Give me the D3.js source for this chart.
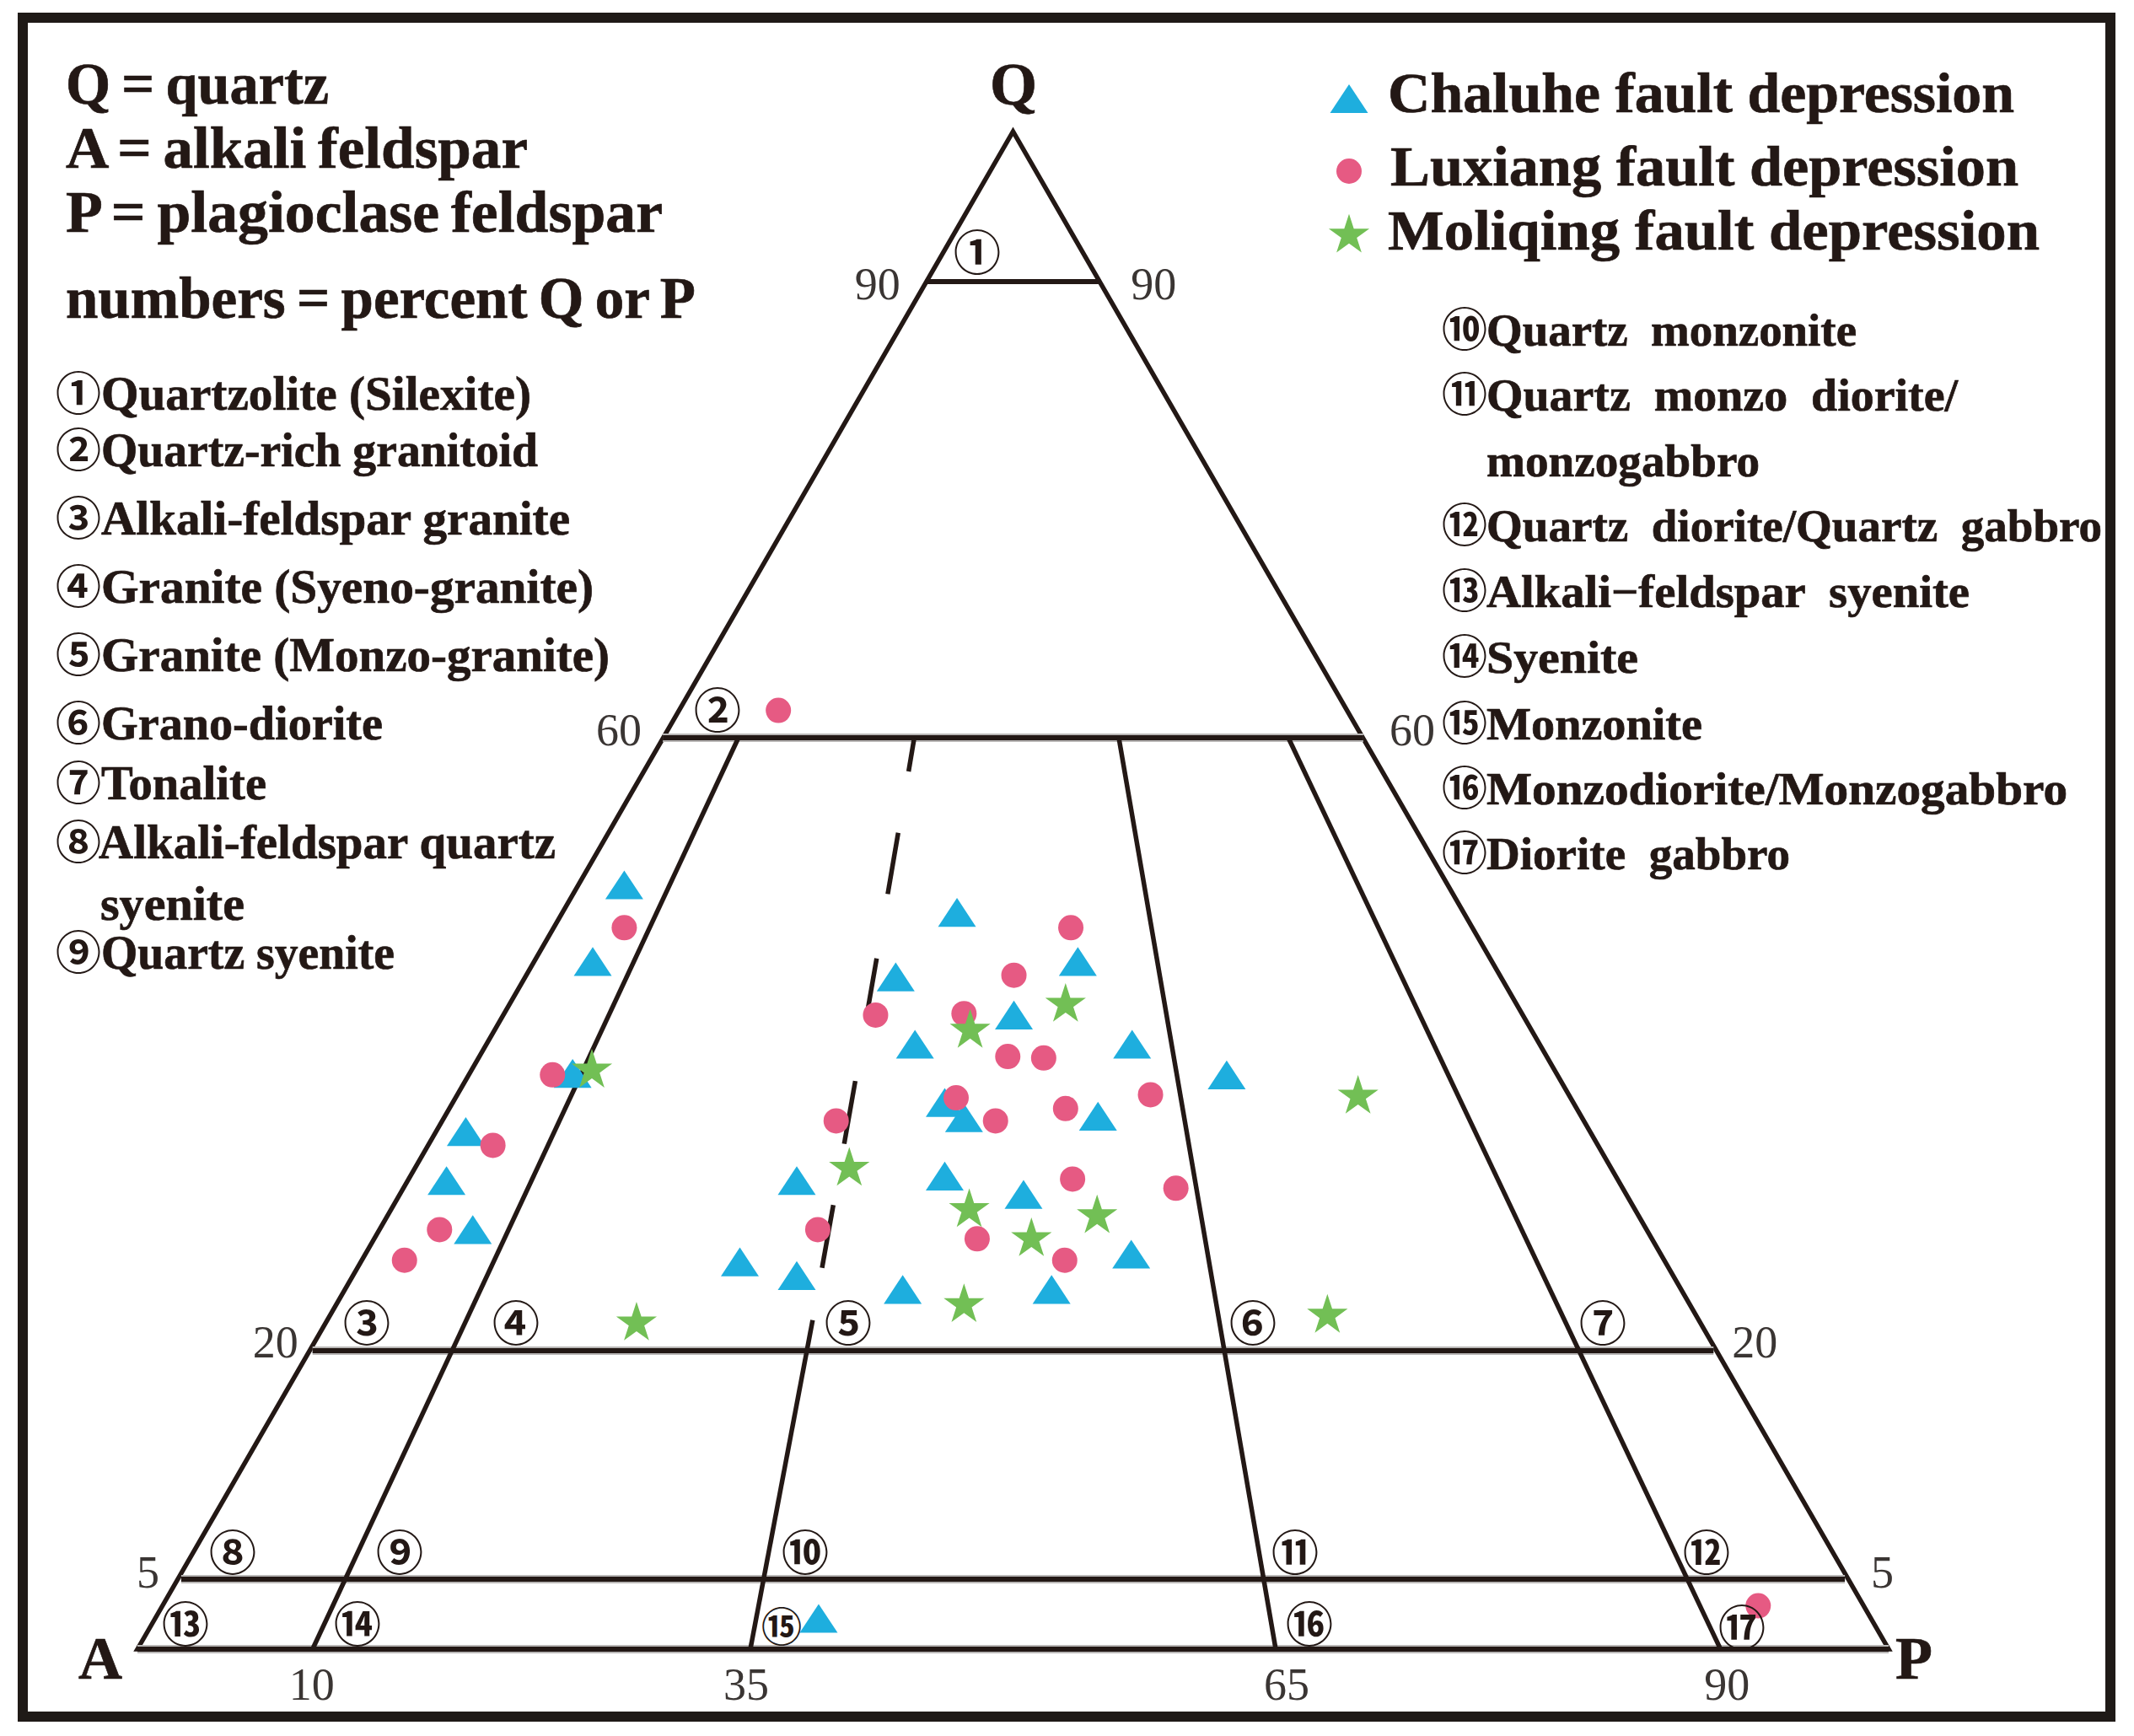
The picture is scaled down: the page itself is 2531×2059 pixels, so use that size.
<!DOCTYPE html>
<html>
<head>
<meta charset="utf-8">
<script src="https://d3js.org/d3.v7.min.js"></script>
<style>
  body { margin: 0; background: #fff; }
  text { font-family: "Liberation Serif", serif; fill: #231815; }
  .bold { font-weight: bold; stroke: #231815; stroke-width: 0.7px; }
  .tick { font-size: 54px; fill: #3a3533; }
  .circled { font-family: "Noto Sans CJK SC", sans-serif; font-weight: 700; text-anchor: middle; }
</style>
</head>
<body>
<div class="chart"></div>
<script>
// QAP diagram, all points
// q = percent quartz, p = percent plagioclase (a is what is left)

var chaluheQ = [50.4, 45.4, 38.1, 34.3, 31.1, 27.9, 25.8, 31.1, 24.9, 48.6, 44.4, 45.4, 41.9, 40.0, 40.0, 38.0, 36.2, 35.2, 35.3, 31.4, 30.2, 26.3, 24.0, 24.0, 2.2];
var chaluheP = [2.6, 3.3, 5.8, 1.6, 2.1, 5.2, 21.5, 22.1, 25.2, 22.5, 21.1, 31.0, 29.1, 24.4, 36.8, 43.2, 28.0, 29.6, 37.2, 30.4, 35.5, 43.6, 31.7, 40.2, 37.8];

var luxiangQ = [61.8, 47.6, 38.0, 33.4, 27.9, 25.9, 27.9, 35.0, 41.9, 42.0, 44.5, 47.6, 39.2, 39.1, 36.5, 35.0, 35.8, 36.7, 31.2, 30.6, 27.3, 25.9, 3.1];
var luxiangP = [5.7, 4.0, 4.7, 3.6, 3.3, 2.3, 24.9, 22.4, 21.2, 26.2, 27.8, 29.5, 30.1, 32.2, 28.5, 31.5, 35.1, 39.5, 37.8, 44.0, 34.3, 40.0, 91.0];

var moliqingQ = [38.3, 31.9, 21.8, 40.9, 42.6, 29.2, 28.8, 27.3, 23.0, 36.6, 22.3];
var moliqingP = [6.8, 24.7, 17.6, 27.1, 31.7, 32.9, 40.4, 37.4, 35.7, 51.4, 56.8];

// field boundaries, P/(A+P) as drawn at the base and at the 60 line
var qLevels = [90, 60, 20, 5];
var ratioBase = [10, 35, 65, 90.4];
var ratioTop = [10.8, 35.9, 65.1, 89.3];
var sideTicks = [90, 60, 20, 5];
var bottomTicks = [10, 35, 65, 90];
// the 35 line is solid up to 22 and dashed from there to 60
var dashFrom = [0, 25.4, 33.5, 41.7, 49.8, 57.8];
var dashTo = [22, 29.5, 37.6, 45.6, 53.8, 60];

var legendNames = ["Chaluhe fault depression", "Luxiang fault depression", "Moliqing fault depression"];
var keyLines = ["Q = quartz", "A = alkali feldspar", "P = plagioclase feldspar", "numbers = percent Q or P"];
var leftMarks = ["①", "②", "③", "④", "⑤", "⑥", "⑦", "⑧", "", "⑨"];
var leftNames = ["Quartzolite (Silexite)", "Quartz-rich granitoid", "Alkali-feldspar granite", "Granite (Syeno-granite)", "Granite (Monzo-granite)", "Grano-diorite", "Tonalite", "Alkali-feldspar quartz", "syenite", "Quartz syenite"];
var rightMarks = ["⑩", "⑪", "", "⑫", "⑬", "⑭", "⑮", "⑯", "⑰"];
var rightNames = ["Quartz  monzonite", "Quartz  monzo  diorite/", "monzogabbro", "Quartz  diorite/Quartz  gabbro", "Alkali−feldspar  syenite", "Syenite", "Monzonite", "Monzodiorite/Monzogabbro", "Diorite  gabbro"];
var fieldMarks = ["①", "②", "③", "④", "⑤", "⑥", "⑦", "⑧", "⑨", "⑩", "⑪", "⑫", "⑬", "⑭", "⑮", "⑯", "⑰"];

// layout only below this line
var svgWidth = 2531;
var svgHeight = 2059;
var ink = "#231815";
var triangleColor = "#1eaede";
var circleColor = "#e65a83";
var starColor = "#72bf55";

var svg = d3.select(".chart").append("svg")
  .attr("width", svgWidth)
  .attr("height", svgHeight)
  .style("display", "block");

svg.append("rect")
  .attr("x", 27).attr("y", 21)
  .attr("width", 2476).attr("height", 2015)
  .attr("fill", "#fff")
  .attr("stroke", "#1f1a17")
  .attr("stroke-width", 12);

// the sides of the picture are not quite even so the q scale has a few knots
var yScale = d3.scaleLinear()
  .domain([0, 5, 20, 60, 90, 100])
  .range([1956, 1873, 1602, 875, 334, 156]);
var xScale = d3.scaleLinear().domain([0, 100]).range([163, 2240]);

function px(q, p) { return xScale(p + q / 2); }
// point on a boundary line, i is which boundary
function ratioX(q, i) {
  var r = ratioBase[i] + (ratioTop[i] - ratioBase[i]) * q / 60;
  return px(q, r * (100 - q) / 100);
}

var plot = svg.append("g");

var line = d3.line().x(function(d) { return d[0]; }).y(function(d) { return d[1]; });
plot.append("path")
  .attr("d", line([[px(0, 0), yScale(0)], [px(100, 0), yScale(100)], [px(0, 100), yScale(0)]]) + "Z")
  .attr("fill", "none")
  .attr("stroke", ink)
  .attr("stroke-width", 5.5);

// soft grey edge on the horizontal rules, as in the scan
plot.selectAll(".halo").data(qLevels.slice(1).concat([0])).enter().append("line")
  .attr("class", "halo")
  .attr("x1", function(d) { return px(d, 0); })
  .attr("x2", function(d) { return px(d, 100 - d); })
  .attr("y1", yScale).attr("y2", yScale)
  .attr("stroke", "#b9b7b6").attr("stroke-width", 10);

plot.selectAll(".level").data(qLevels.concat([0])).enter().append("line")
  .attr("class", "level")
  .attr("x1", function(d) { return px(d, 0); })
  .attr("x2", function(d) { return px(d, 100 - d); })
  .attr("y1", yScale).attr("y2", yScale)
  .attr("stroke", ink).attr("stroke-width", 6);

[0, 2, 3].forEach(function(i) {
  plot.append("line")
    .attr("x1", ratioX(0, i)).attr("y1", yScale(0))
    .attr("x2", ratioX(60, i)).attr("y2", yScale(60))
    .attr("stroke", ink).attr("stroke-width", 5.5);
});

dashFrom.forEach(function(q, i) {
  plot.append("line")
    .attr("x1", ratioX(q, 1)).attr("y1", yScale(q))
    .attr("x2", ratioX(dashTo[i], 1)).attr("y2", yScale(dashTo[i]))
    .attr("stroke", ink).attr("stroke-width", 5.5);
});

// flat triangle, wider than d3.symbolTriangle
var flatTriangle = {
  draw: function(context, size) {
    var w = Math.sqrt(size);
    var h = w * 0.76;
    context.moveTo(0, -h / 2);
    context.lineTo(w / 2, h / 2);
    context.lineTo(-w / 2, h / 2);
    context.closePath();
  }
};
var triangleMark = d3.symbol().type(flatTriangle).size(2025);
var starMark = d3.symbol().type(d3.symbolStar).size(720);

plot.selectAll(".chaluhe").data(chaluheQ).enter().append("path")
  .attr("class", "chaluhe")
  .attr("d", triangleMark)
  .attr("fill", triangleColor)
  .attr("transform", function(d, i) { return "translate(" + px(d, chaluheP[i]) + "," + yScale(d) + ")"; });

plot.selectAll(".luxiang").data(luxiangQ).enter().append("circle")
  .attr("class", "luxiang")
  .attr("cx", function(d, i) { return px(d, luxiangP[i]); })
  .attr("cy", yScale)
  .attr("r", 15)
  .attr("fill", circleColor);

plot.selectAll(".moliqing").data(moliqingQ).enter().append("path")
  .attr("class", "moliqing")
  .attr("d", starMark)
  .attr("fill", starColor)
  .attr("transform", function(d, i) { return "translate(" + px(d, moliqingP[i]) + "," + yScale(d) + ")"; });

// tick numbers
var sideGapLeft = [30, 25, 17, 26];
var sideGapRight = [36, 31, 22, 31];
var sideDrop = [21, 9, 8, 10];
sideTicks.forEach(function(q, i) {
  svg.append("text").attr("class", "tick")
    .attr("x", px(q, 0) - sideGapLeft[i])
    .attr("y", yScale(q) + sideDrop[i])
    .attr("text-anchor", "end")
    .text(q);
  svg.append("text").attr("class", "tick")
    .attr("x", px(q, 100 - q) + sideGapRight[i])
    .attr("y", yScale(q) + sideDrop[i])
    .text(q);
});
var bottomNudge = [-1, -5, 13, 16];
bottomTicks.forEach(function(d, i) {
  svg.append("text").attr("class", "tick")
    .attr("x", xScale(d) + bottomNudge[i])
    .attr("y", 2016)
    .attr("text-anchor", "middle")
    .text(d);
});

// corner letters
var cornerText = ["Q", "A", "P"];
var cornerX = [1202, 119, 2270];
var cornerY = [124, 1991, 1991];
cornerText.forEach(function(d, i) {
  svg.append("text").attr("class", "bold")
    .attr("x", cornerX[i]).attr("y", cornerY[i])
    .attr("text-anchor", "middle")
    .attr("font-size", 72)
    .text(d);
});

// circled field numbers inside the diagram
var fieldX = [1159, 851, 435, 612, 1006, 1486, 1901, 276, 474, 955, 1536, 2024, 220, 424, 927, 1553, 2066];
var fieldY = [300, 843, 1570, 1570, 1570, 1570, 1570, 1842, 1842, 1842, 1842, 1842, 1927, 1927, 1930, 1927, 1931];
var fieldSize = [56, 56, 56, 56, 56, 56, 56, 56, 56, 56, 56, 56, 56, 56, 48, 56, 56];
fieldMarks.forEach(function(d, i) {
  svg.append("text").attr("class", "circled")
    .attr("x", fieldX[i]).attr("y", fieldY[i])
    .attr("dy", "0.36em")
    .attr("font-size", fieldSize[i])
    .text(d);
});

// key at top left
function label(g, s, x, y, size, width, wordGap) {
  g.append("text").attr("class", "bold")
    .attr("x", x).attr("y", y)
    .attr("font-size", size)
    .attr("textLength", width)
    .attr("lengthAdjust", "spacingAndGlyphs")
    .style("word-spacing", (wordGap || 0) + "px")
    .style("white-space", "pre")
    .text(s);
}

var keyY = [123, 199, 275, 377];
var keyEnd = [390, 626, 786, 825];
keyLines.forEach(function(d, i) {
  label(svg, d, 78, keyY[i], 70, keyEnd[i] - 78, -4);
});

var leftX = [120, 120, 120, 120, 120, 120, 120, 117, 119, 120];
var leftY = [486, 553, 634, 715, 796, 877, 948, 1018, 1091, 1149];
var leftEnd = [630, 638, 676, 704, 723, 454, 316, 659, 290, 468];
leftNames.forEach(function(d, i) {
  label(svg, d, leftX[i], leftY[i], 56, leftEnd[i] - leftX[i]);
  if (leftMarks[i]) {
    svg.append("text").attr("class", "circled")
      .attr("x", 93).attr("y", leftY[i] - 18)
      .attr("dy", "0.36em")
      .attr("font-size", 54)
      .text(leftMarks[i]);
  }
});

var rightY = [410, 487, 565, 642, 720, 798, 877, 954, 1031];
var rightEnd = [2202, 2322, 2087, 2493, 2336, 1943, 2019, 2452, 2123];
rightNames.forEach(function(d, i) {
  label(svg, d, 1763, rightY[i], 54, rightEnd[i] - 1763);
  if (rightMarks[i]) {
    svg.append("text").attr("class", "circled")
      .attr("x", 1737).attr("y", rightY[i] - 18)
      .attr("dy", "0.36em")
      .attr("font-size", 54)
      .text(rightMarks[i]);
  }
});

// legend
var legendX = [1646, 1649, 1646];
var legendY = [133, 220, 296];
var legendEnd = [2389, 2394, 2419];
legendNames.forEach(function(d, i) {
  label(svg, d, legendX[i], legendY[i], 68, legendEnd[i] - legendX[i]);
});
svg.append("path").attr("d", triangleMark).attr("fill", triangleColor)
  .attr("transform", "translate(1600,117)");
svg.append("circle").attr("cx", 1600).attr("cy", 203).attr("r", 15).attr("fill", circleColor);
svg.append("path").attr("d", starMark).attr("fill", starColor)
  .attr("transform", "translate(1600,279)");
</script>
</body>
</html>
